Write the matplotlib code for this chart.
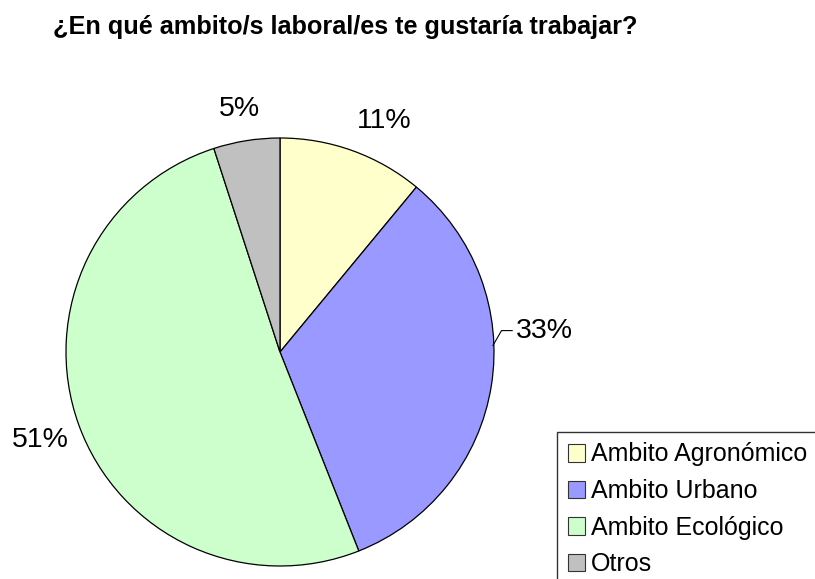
import numpy as np
import matplotlib.pyplot as plt

plt.rcParams['font.family'] = ['Liberation Sans', 'DejaVu Sans']

categories = ['Ambito Agronómico', 'Ambito Urbano', 'Ambito Ecológico', 'Otros']
values = [11, 33, 51, 5]
pct_labels = ['11%', '33%', '51%', '5%']
colors = ['#FFFFCC', '#9999FF', '#CCFFCC', '#C0C0C0']

W, H = 815, 579
fig = plt.figure(figsize=(W / 100, H / 100), dpi=100)
fig.patch.set_facecolor('white')

# pie: centre (280, 352) px, radius 214 px
cx, cy, r = 280, 352, 214
ax = fig.add_axes([(cx - r) / W, (H - cy - r) / H, 2 * r / W, 2 * r / H])
wedges, _ = ax.pie(values, colors=colors, startangle=90, counterclock=False,
                   radius=1, wedgeprops=dict(edgecolor='black', linewidth=0.9))
ax.set_xlim(-1, 1); ax.set_ylim(-1, 1)
ax.set_aspect('equal'); ax.axis('off')

# percentage labels (distance from centre, small nudges in radius units)
dist = [1.2, None, 1.19, 1.16]
nudge = [(0.08, -0.05), None, (0.0, -0.01), (-0.01, -0.01)]
for i, w in enumerate(wedges):
    mid = np.deg2rad((w.theta1 + w.theta2) / 2)
    if i == 1:
        # Urbano label moved up, with leader line
        ax.plot([0.995, 1.035, 1.085], [0.03, 0.10, 0.10], color='black', lw=0.8, clip_on=False)
        ax.text(1.10, 0.10, pct_labels[i], fontsize=20.5, ha='left', va='center')
        continue
    ax.text(dist[i] * np.cos(mid) + nudge[i][0], dist[i] * np.sin(mid) + nudge[i][1],
            pct_labels[i], fontsize=20.5, ha='center', va='center')

fig.text(53 / W, 1 - 34 / H, '¿En qué ambito/s laboral/es te gustaría trabajar?',
         fontsize=18.2, fontweight='bold', ha='left', va='baseline')

leg = fig.legend(wedges, categories, loc='upper left',
                 bbox_to_anchor=(557 / W, 1 - 432 / H), fontsize=18,
                 frameon=True, fancybox=False, edgecolor='black',
                 handlelength=0.7, handleheight=0.7, handletextpad=0.25,
                 labelspacing=0.5, borderpad=0.42, borderaxespad=0)
leg.get_frame().set_linewidth(1.0)
for h in leg.legend_handles:
    h.set_edgecolor('#333333'); h.set_linewidth(0.8)

fig.savefig('out.png', dpi=100)
